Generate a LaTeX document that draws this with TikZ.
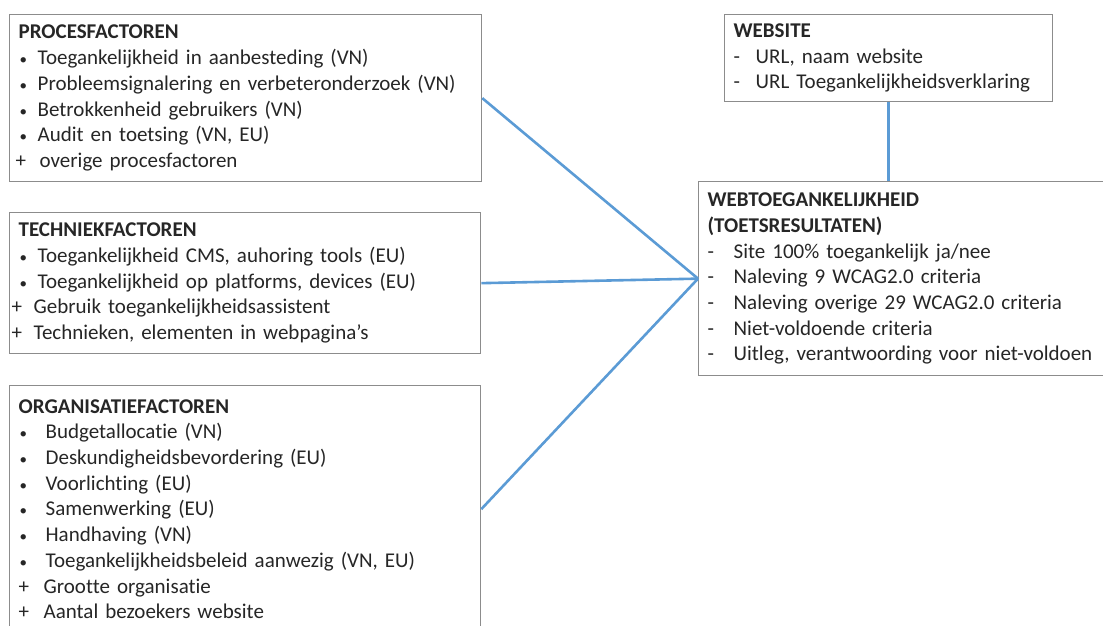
\documentclass[tikz,border=0pt]{standalone}
\usepackage{fontspec}
\setmainfont{Carlito}[Ligatures={NoCommon}]
\usetikzlibrary{positioning,calc}
\definecolor{lnColor}{HTML}{5B9BD5}
\definecolor{bxColor}{HTML}{8C8C8C}
\newcommand{\itm}[3][19pt]{\makebox[#1][l]{#2}#3}
\newcommand{\bul}{\hspace*{1pt}{\fontsize{15}{15}\selectfont•}}

\begin{document}
\begin{tikzpicture}[x=1pt,y=-1pt,
		factbox/.style={draw=bxColor, line width=1.3pt, anchor=north west, align=left,
			inner xsep=9pt, inner ysep=0pt, text=black!85,
			font=\fontsize{21}{25.7}\selectfont},
		link/.style={draw=lnColor, line width=2.6pt}]
	\path[use as bounding box, clip] (0,0) rectangle (1103,626);
	
	\node[factbox, text width=454pt, minimum height=167pt] (proces) at (9,14) {\textbf{PROCESFACTOREN}\\
		\itm{\bul}{Toegankelijkheid in aanbesteding (VN)}\\
		\itm{\bul}{Probleemsignalering en verbeteronderzoek (VN)}\\
		\itm{\bul}{Betrokkenheid gebruikers (VN)}\\
		\itm{\bul}{Audit en toetsing (VN, EU)}\\
		\hspace*{-3pt}\itm[24pt]{+}{overige procesfactoren}};
	\node[factbox, text width=453pt, minimum height=141pt] (techniek) at (9,212) {\textbf{TECHNIEKFACTOREN}\\
		\itm{\bul}{Toegankelijkheid CMS, auhoring tools (EU)}\\
		\itm{\bul}{Toegankelijkheid op platforms, devices (EU)}\\
		\hspace*{-7pt}\itm[22pt]{+}{Gebruik toegankelijkheidsassistent}\\
		\hspace*{-7pt}\itm[22pt]{+}{Technieken, elementen in webpagina’s}};
	\node[factbox, text width=453pt, minimum height=247pt] (organisatie) at (9,385) {\textbf{ORGANISATIEFACTOREN}\\
		\itm[27pt]{\bul}{Budgetallocatie (VN)}\\
		\itm[27pt]{\bul}{Deskundigheidsbevordering (EU)}\\
		\itm[27pt]{\bul}{Voorlichting (EU)}\\
		\itm[27pt]{\bul}{Samenwerking (EU)}\\
		\itm[27pt]{\bul}{Handhaving (VN)}\\
		\itm[27pt]{\bul}{Toegankelijkheidsbeleid aanwezig (VN, EU)}\\
		\itm[25pt]{+}{Grootte organisatie}\\
		\itm[25pt]{+}{Aantal bezoekers website}};
	\node[factbox, text width=310pt, minimum height=87pt] (site) at (724,14) {\textbf{WEBSITE}\\
		\itm[22pt]{-}{URL, naam website}\\
		\itm[22pt]{-}{URL Toegankelijkheidsverklaring}};
	\node[factbox, text width=424pt, minimum height=194pt] (result) at (698,181) {\textbf{WEBTOEGANKELIJKHEID}\\
		\textbf{(TOETSRESULTATEN)}\\
		\itm[26pt]{-}{Site 100\% toegankelijk ja/nee}\\
		\itm[26pt]{-}{Naleving 9 WCAG2.0 criteria}\\
		\itm[26pt]{-}{Naleving overige 29 WCAG2.0 criteria}\\
		\itm[26pt]{-}{Niet-voldoende criteria}\\
		\itm[26pt]{-}{Uitleg, verantwoording voor niet-voldoen}};
	
	\draw[link] (proces.east) -- (result.west);
	\draw[link] (techniek.east) -- (result.west);
	\draw[link] (organisatie.east) -- (result.west);
	\draw[link] (site.south) -- (site.south |- result.north);
\end{tikzpicture}
\end{document}
